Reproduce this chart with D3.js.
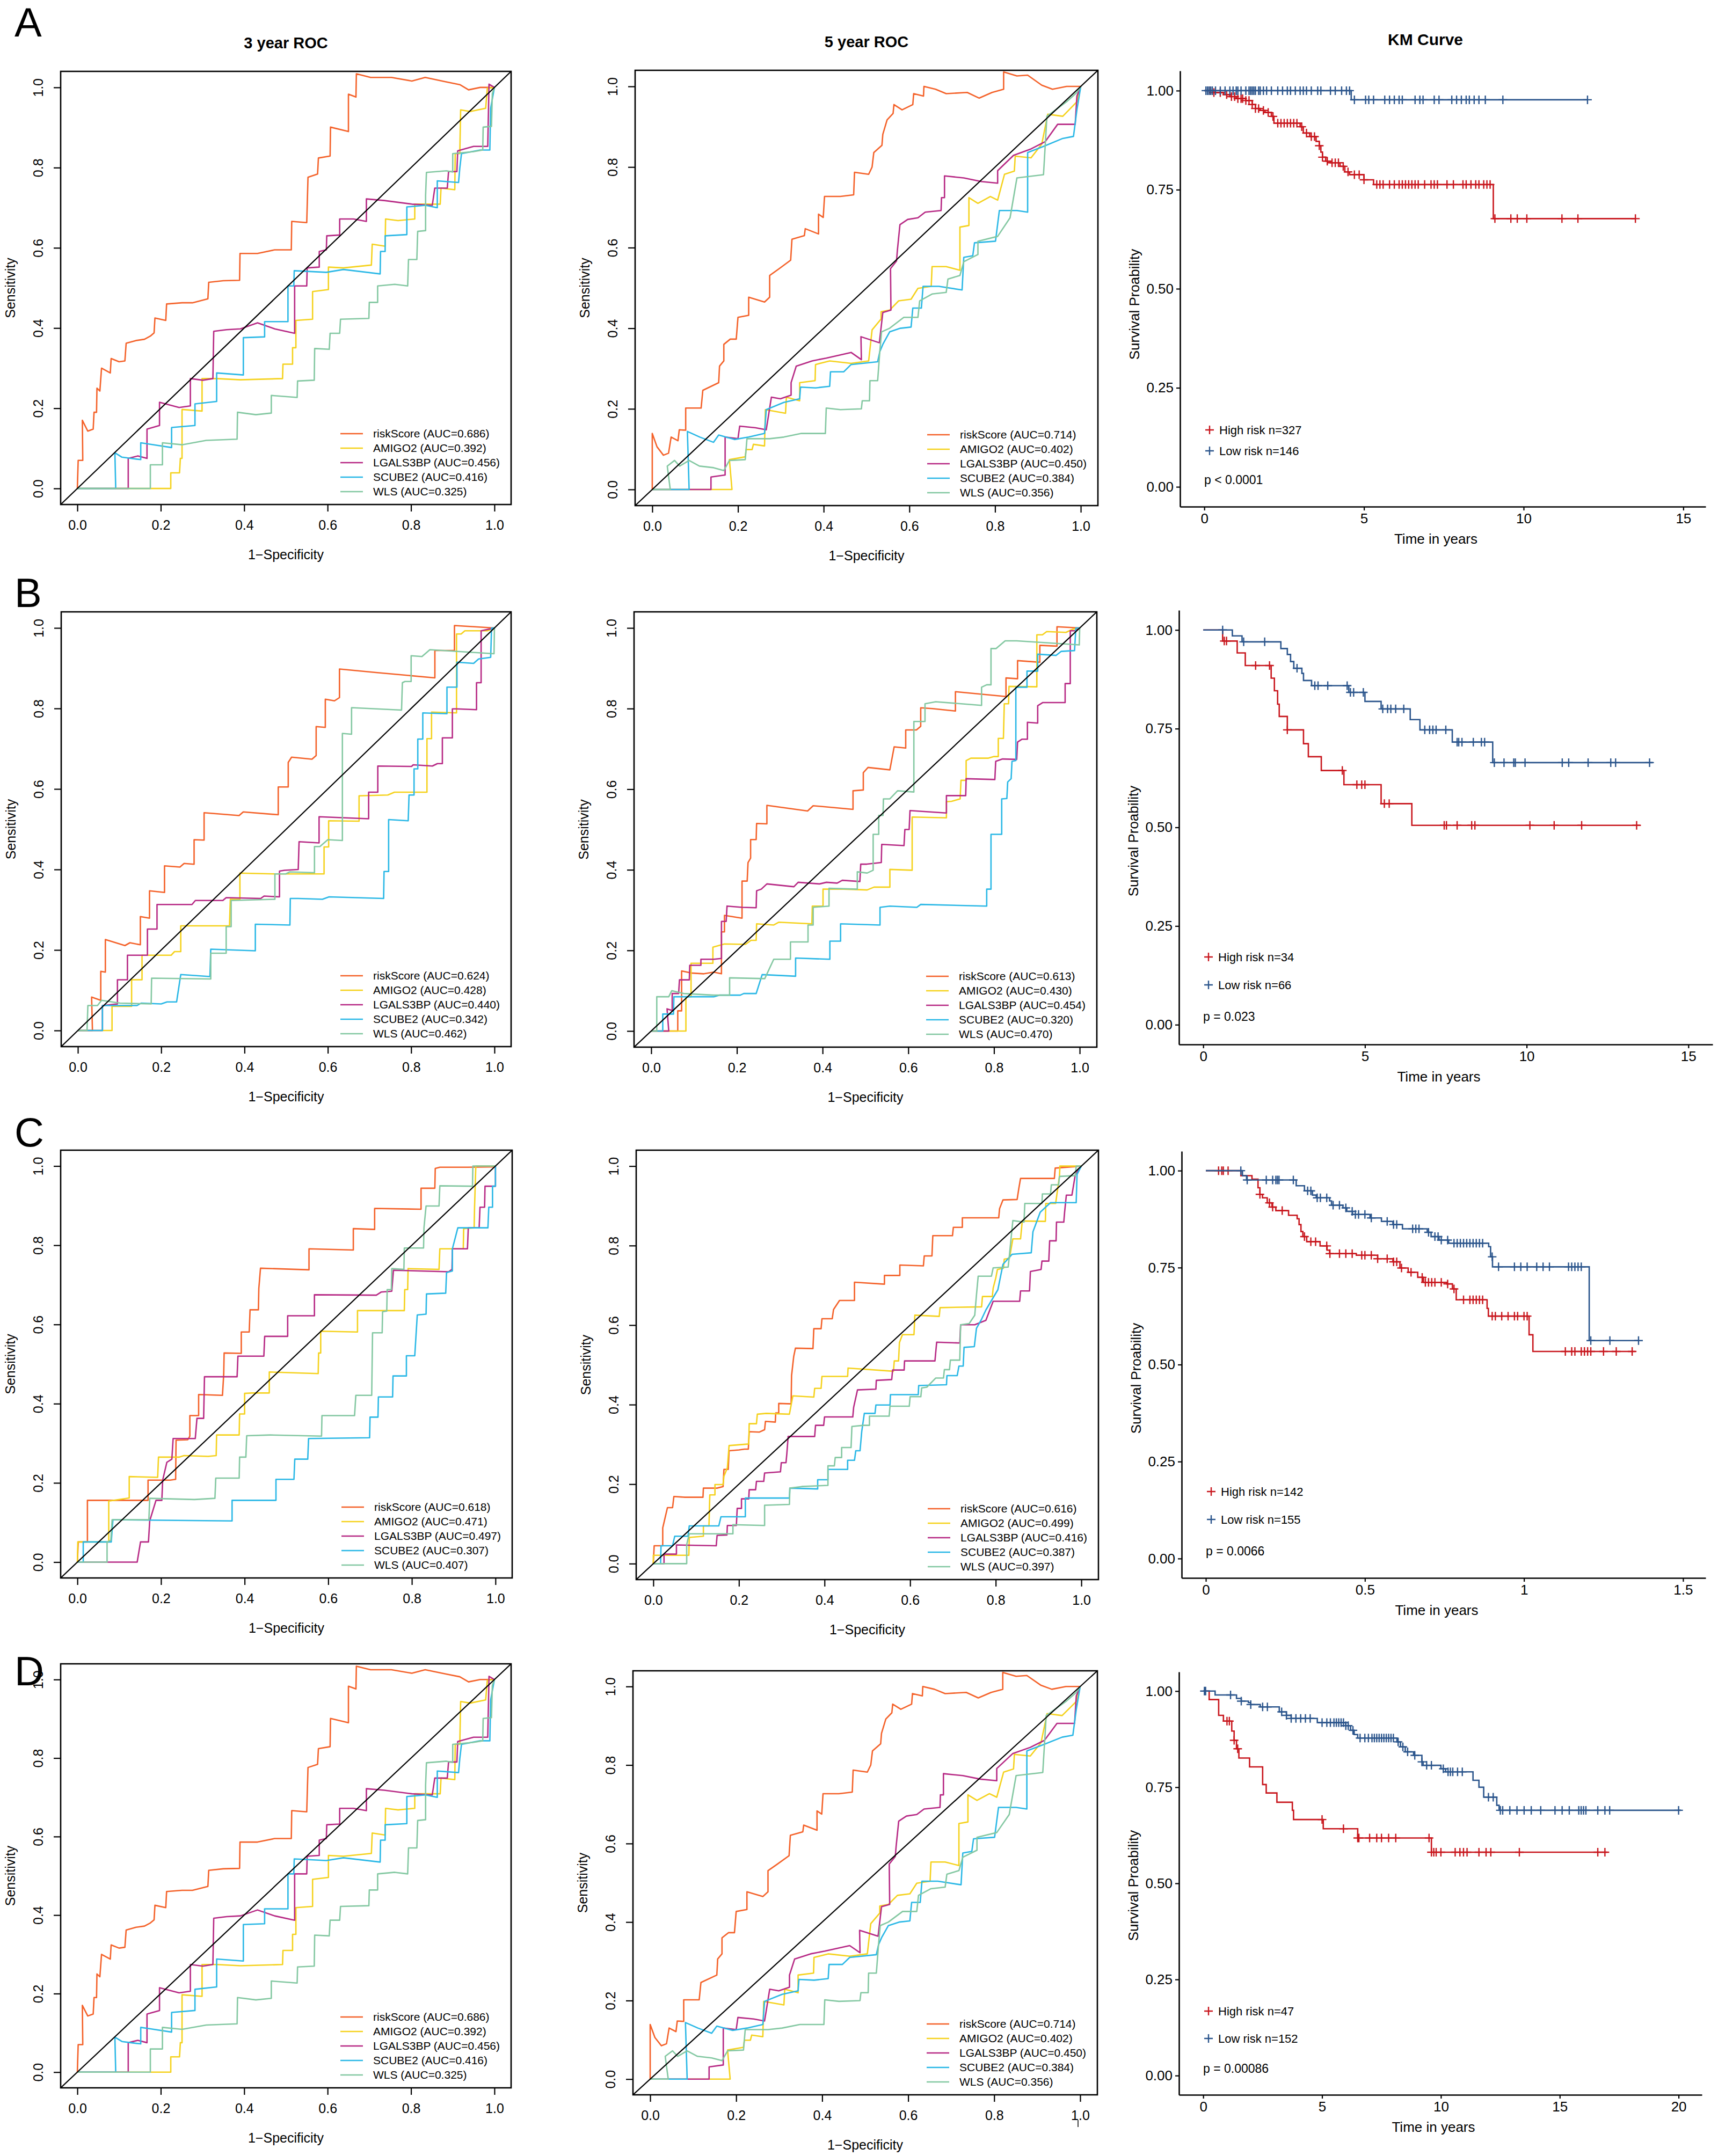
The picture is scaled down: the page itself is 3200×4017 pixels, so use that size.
<!DOCTYPE html>
<html><head><meta charset="utf-8">
<script src="https://cdn.jsdelivr.net/npm/d3@7"></script>
<style>body{margin:0;background:#fff}svg{display:block}</style>
</head><body><svg id="c" width="3200" height="4017"></svg>
<script>
// ---------------- DATA ----------------
const genes = ["riskScore","AMIGO2","LGALS3BP","SCUBE2","WLS"];
const rocTicks = [0,0.2,0.4,0.6,0.8,1.0];
const aucA3 = [0.686,0.392,0.456,0.416,0.325];
const aucA5 = [0.714,0.402,0.450,0.384,0.356];
const aucB3 = [0.624,0.428,0.440,0.342,0.462];
const aucB5 = [0.613,0.430,0.454,0.320,0.470];
const aucC3 = [0.618,0.471,0.497,0.307,0.407];
const aucC5 = [0.616,0.499,0.416,0.387,0.397];

// ROC curves, [1-specificity, sensitivity]
const rocA3_riskScore = [[0,0],[0.002,0.07],[0.013,0.07],[0.012,0.17],[0.025,0.143],[0.038,0.148],[0.04,0.19],[0.046,0.19],[0.047,0.25],[0.054,0.243],[0.058,0.30],[0.079,0.288],[0.081,0.324],[0.1,0.316],[0.114,0.318],[0.117,0.362],[0.141,0.369],[0.161,0.372],[0.175,0.38],[0.184,0.388],[0.186,0.425],[0.212,0.419],[0.214,0.46],[0.251,0.463],[0.276,0.463],[0.313,0.473],[0.315,0.514],[0.35,0.518],[0.389,0.519],[0.39,0.586],[0.432,0.586],[0.473,0.595],[0.513,0.595],[0.514,0.666],[0.55,0.663],[0.553,0.776],[0.576,0.784],[0.578,0.824],[0.606,0.829],[0.607,0.901],[0.65,0.89],[0.65,0.983],[0.668,0.976],[0.669,1.034],[0.703,1.025],[0.753,1.025],[0.802,1.016],[0.834,1.025],[0.884,1.014],[0.917,1.007],[0.938,0.994],[0.966,1.0],[1,1]];
const rocA3_AMIGO2 = [[0,0],[0.224,0],[0.224,0.039],[0.245,0.039],[0.247,0.075],[0.251,0.075],[0.251,0.197],[0.299,0.193],[0.299,0.274],[0.334,0.274],[0.391,0.271],[0.492,0.274],[0.493,0.31],[0.516,0.31],[0.516,0.351],[0.524,0.351],[0.524,0.419],[0.564,0.422],[0.564,0.491],[0.602,0.496],[0.602,0.552],[0.638,0.55],[0.705,0.557],[0.707,0.609],[0.738,0.604],[0.739,0.672],[0.769,0.668],[0.809,0.672],[0.809,0.709],[0.87,0.709],[0.872,0.749],[0.905,0.745],[0.906,0.835],[0.917,0.835],[0.919,0.944],[0.942,0.94],[0.979,0.948],[0.983,0.998],[1,1]];
const rocA3_LGALS3BP = [[0,0],[0.122,0],[0.122,0.075],[0.145,0.081],[0.167,0.075],[0.167,0.148],[0.197,0.157],[0.197,0.215],[0.244,0.202],[0.271,0.206],[0.271,0.274],[0.301,0.27],[0.325,0.274],[0.327,0.392],[0.358,0.396],[0.391,0.398],[0.432,0.413],[0.473,0.398],[0.521,0.387],[0.521,0.505],[0.55,0.505],[0.551,0.55],[0.58,0.552],[0.58,0.591],[0.597,0.595],[0.598,0.63],[0.629,0.632],[0.629,0.672],[0.662,0.672],[0.693,0.666],[0.693,0.722],[0.736,0.718],[0.802,0.709],[0.851,0.706],[0.857,0.749],[0.887,0.749],[0.89,0.79],[0.91,0.79],[0.912,0.842],[0.95,0.853],[0.984,0.853],[0.987,1.008],[1,1]];
const rocA3_SCUBE2 = [[0,0],[0.092,0],[0.09,0.089],[0.107,0.078],[0.128,0.075],[0.152,0.072],[0.152,0.114],[0.177,0.11],[0.226,0.102],[0.226,0.152],[0.282,0.157],[0.282,0.211],[0.334,0.217],[0.334,0.288],[0.398,0.283],[0.398,0.376],[0.449,0.378],[0.449,0.416],[0.505,0.416],[0.505,0.505],[0.519,0.505],[0.52,0.543],[0.597,0.539],[0.638,0.546],[0.726,0.535],[0.727,0.591],[0.738,0.591],[0.738,0.63],[0.79,0.633],[0.79,0.702],[0.835,0.706],[0.863,0.7],[0.863,0.767],[0.914,0.763],[0.917,0.799],[0.921,0.835],[0.966,0.844],[0.989,0.844],[0.991,0.948],[1,1]];
const rocA3_WLS = [[0,0],[0.175,0],[0.175,0.059],[0.204,0.059],[0.204,0.114],[0.251,0.109],[0.309,0.12],[0.383,0.123],[0.384,0.19],[0.428,0.184],[0.465,0.188],[0.465,0.232],[0.527,0.227],[0.528,0.268],[0.568,0.27],[0.569,0.349],[0.604,0.347],[0.606,0.387],[0.629,0.387],[0.631,0.422],[0.699,0.424],[0.7,0.464],[0.72,0.464],[0.72,0.505],[0.761,0.509],[0.792,0.505],[0.794,0.571],[0.814,0.571],[0.816,0.641],[0.835,0.643],[0.835,0.731],[0.837,0.788],[0.885,0.792],[0.9,0.789],[0.9,0.835],[0.95,0.84],[0.972,0.844],[0.973,0.901],[0.993,0.903],[0.995,0.985],[1,1]];

const rocA5_riskScore = [[0,0],[0,0.139],[0.011,0.106],[0.026,0.085],[0.038,0.09],[0.044,0.13],[0.06,0.121],[0.063,0.148],[0.078,0.147],[0.078,0.202],[0.114,0.202],[0.118,0.246],[0.155,0.265],[0.157,0.306],[0.167,0.319],[0.167,0.36],[0.182,0.373],[0.196,0.373],[0.2,0.427],[0.225,0.432],[0.225,0.477],[0.262,0.465],[0.274,0.477],[0.274,0.531],[0.295,0.547],[0.323,0.569],[0.326,0.621],[0.355,0.63],[0.357,0.647],[0.388,0.634],[0.388,0.683],[0.399,0.675],[0.402,0.727],[0.439,0.727],[0.47,0.731],[0.472,0.787],[0.505,0.782],[0.513,0.8],[0.517,0.836],[0.536,0.854],[0.538,0.881],[0.548,0.917],[0.562,0.933],[0.564,0.955],[0.583,0.942],[0.608,0.955],[0.61,0.982],[0.633,0.976],[0.634,1.0],[0.661,0.993],[0.686,0.982],[0.735,0.985],[0.763,0.971],[0.793,0.985],[0.82,0.993],[0.82,1.036],[0.851,1.026],[0.876,1.028],[0.909,1.003],[0.934,0.993],[0.967,1.0],[1,1]];
const rocA5_AMIGO2 = [[0,0],[0.186,0],[0.18,0.074],[0.217,0.081],[0.219,0.099],[0.233,0.099],[0.236,0.112],[0.262,0.108],[0.264,0.198],[0.311,0.189],[0.313,0.229],[0.344,0.22],[0.344,0.265],[0.38,0.27],[0.381,0.31],[0.414,0.319],[0.464,0.313],[0.505,0.319],[0.513,0.396],[0.534,0.423],[0.534,0.441],[0.554,0.445],[0.575,0.468],[0.604,0.472],[0.62,0.499],[0.651,0.504],[0.653,0.553],[0.686,0.553],[0.718,0.544],[0.718,0.651],[0.739,0.655],[0.739,0.724],[0.76,0.71],[0.789,0.727],[0.806,0.718],[0.822,0.782],[0.845,0.79],[0.847,0.827],[0.884,0.823],[0.909,0.857],[0.923,0.931],[0.958,0.926],[0.991,0.962],[1,1]];
const rocA5_LGALS3BP = [[0,0],[0.137,0],[0.137,0.031],[0.17,0.036],[0.17,0.13],[0.2,0.126],[0.204,0.157],[0.241,0.153],[0.266,0.148],[0.278,0.229],[0.299,0.225],[0.324,0.234],[0.324,0.265],[0.336,0.306],[0.373,0.319],[0.406,0.326],[0.464,0.34],[0.488,0.322],[0.487,0.379],[0.53,0.364],[0.538,0.439],[0.557,0.445],[0.556,0.548],[0.57,0.567],[0.572,0.593],[0.578,0.657],[0.596,0.67],[0.62,0.674],[0.637,0.688],[0.674,0.692],[0.675,0.724],[0.682,0.724],[0.682,0.778],[0.727,0.773],[0.768,0.764],[0.806,0.76],[0.806,0.791],[0.843,0.829],[0.884,0.845],[0.917,0.863],[0.946,0.906],[0.987,0.906],[0.991,0.976],[1,1]];
const rocA5_SCUBE2 = [[0,0],[0.086,0],[0.082,0.144],[0.111,0.13],[0.143,0.117],[0.155,0.135],[0.192,0.124],[0.225,0.13],[0.262,0.139],[0.266,0.198],[0.307,0.216],[0.344,0.225],[0.346,0.254],[0.381,0.252],[0.414,0.256],[0.416,0.292],[0.447,0.292],[0.464,0.31],[0.526,0.317],[0.531,0.342],[0.538,0.36],[0.554,0.391],[0.579,0.4],[0.604,0.403],[0.608,0.45],[0.628,0.45],[0.632,0.504],[0.669,0.504],[0.723,0.495],[0.727,0.576],[0.748,0.58],[0.752,0.612],[0.801,0.616],[0.81,0.692],[0.851,0.692],[0.876,0.688],[0.876,0.836],[0.917,0.853],[0.958,0.871],[0.983,0.876],[0.991,0.942],[1,1]];
const rocA5_WLS = [[0,0],[0.042,0],[0.035,0.058],[0.052,0.072],[0.064,0.058],[0.086,0.072],[0.11,0.058],[0.143,0.054],[0.167,0.047],[0.18,0.072],[0.217,0.074],[0.221,0.126],[0.274,0.126],[0.307,0.13],[0.348,0.139],[0.404,0.139],[0.406,0.202],[0.439,0.198],[0.488,0.2],[0.49,0.22],[0.507,0.22],[0.508,0.27],[0.526,0.27],[0.531,0.342],[0.535,0.391],[0.554,0.4],[0.587,0.427],[0.62,0.427],[0.624,0.468],[0.653,0.485],[0.686,0.489],[0.69,0.522],[0.718,0.531],[0.727,0.565],[0.76,0.583],[0.76,0.616],[0.806,0.628],[0.835,0.674],[0.851,0.773],[0.913,0.781],[0.921,0.926],[0.967,0.962],[0.991,0.985],[1,1]];

const rocB3_riskScore = [[0,0],[0.035,0],[0.033,0.083],[0.055,0.075],[0.055,0.147],[0.066,0.145],[0.066,0.226],[0.113,0.211],[0.125,0.218],[0.15,0.213],[0.15,0.283],[0.172,0.279],[0.172,0.347],[0.208,0.343],[0.208,0.409],[0.245,0.406],[0.255,0.415],[0.279,0.413],[0.279,0.474],[0.303,0.473],[0.303,0.541],[0.387,0.534],[0.397,0.543],[0.481,0.536],[0.481,0.605],[0.505,0.605],[0.505,0.666],[0.513,0.679],[0.562,0.674],[0.572,0.683],[0.572,0.755],[0.594,0.753],[0.594,0.823],[0.616,0.819],[0.628,0.827],[0.628,0.898],[0.719,0.889],[0.857,0.876],[0.857,0.944],[0.904,0.944],[0.904,1.006],[1,1]];
const rocB3_AMIGO2 = [[0,0],[0.082,0],[0.082,0.06],[0.129,0.06],[0.129,0.126],[0.154,0.126],[0.154,0.187],[0.224,0.187],[0.232,0.196],[0.247,0.196],[0.247,0.26],[0.29,0.26],[0.364,0.26],[0.366,0.326],[0.389,0.326],[0.389,0.391],[0.472,0.389],[0.591,0.389],[0.591,0.456],[0.602,0.456],[0.602,0.521],[0.675,0.52],[0.675,0.583],[0.744,0.585],[0.76,0.592],[0.838,0.592],[0.838,0.725],[0.849,0.725],[0.849,0.791],[0.909,0.789],[0.909,0.985],[0.92,0.985],[0.929,0.993],[0.983,0.993],[1,1]];
const rocB3_LGALS3BP = [[0,0],[0.059,0],[0.059,0.062],[0.095,0.066],[0.095,0.126],[0.119,0.126],[0.119,0.187],[0.167,0.187],[0.167,0.252],[0.19,0.252],[0.19,0.313],[0.274,0.313],[0.282,0.323],[0.348,0.323],[0.356,0.33],[0.439,0.328],[0.447,0.334],[0.484,0.332],[0.484,0.396],[0.496,0.398],[0.529,0.4],[0.531,0.469],[0.579,0.466],[0.579,0.531],[0.698,0.526],[0.698,0.592],[0.72,0.592],[0.72,0.657],[0.801,0.656],[0.805,0.66],[0.851,0.657],[0.863,0.663],[0.875,0.663],[0.875,0.727],[0.899,0.727],[0.899,0.799],[0.909,0.799],[0.957,0.797],[0.957,0.864],[0.968,0.864],[0.968,0.993],[1,1]];
const rocB3_SCUBE2 = [[0,0],[0.059,0],[0.059,0.062],[0.142,0.062],[0.152,0.068],[0.2,0.066],[0.214,0.071],[0.237,0.071],[0.247,0.139],[0.317,0.134],[0.319,0.202],[0.426,0.198],[0.426,0.264],[0.509,0.262],[0.51,0.328],[0.529,0.328],[0.587,0.326],[0.603,0.332],[0.734,0.328],[0.735,0.395],[0.746,0.395],[0.746,0.524],[0.793,0.521],[0.795,0.585],[0.807,0.585],[0.807,0.65],[0.816,0.65],[0.816,0.724],[0.828,0.724],[0.828,0.789],[0.886,0.787],[0.886,0.853],[0.91,0.853],[0.91,0.915],[0.95,0.912],[0.962,0.923],[0.991,0.927],[0.993,1.0],[1,1]];
const rocB3_WLS = [[0,0],[0.022,0],[0.024,0.062],[0.047,0.062],[0.057,0.075],[0.101,0.068],[0.176,0.066],[0.177,0.13],[0.319,0.128],[0.319,0.192],[0.356,0.192],[0.356,0.258],[0.368,0.258],[0.368,0.323],[0.473,0.326],[0.473,0.389],[0.499,0.389],[0.509,0.394],[0.568,0.392],[0.568,0.457],[0.581,0.457],[0.6,0.474],[0.635,0.472],[0.635,0.738],[0.657,0.736],[0.657,0.802],[0.777,0.796],[0.779,0.864],[0.785,0.867],[0.8,0.867],[0.8,0.931],[0.826,0.929],[0.845,0.946],[0.999,0.936],[1,1]];

const rocB5_riskScore = [[0,0],[0.062,0],[0.062,0.05],[0.071,0.05],[0.071,0.149],[0.093,0.144],[0.123,0.142],[0.146,0.146],[0.164,0.142],[0.164,0.246],[0.171,0.246],[0.171,0.287],[0.212,0.28],[0.212,0.372],[0.224,0.372],[0.226,0.418],[0.232,0.429],[0.232,0.475],[0.245,0.475],[0.246,0.515],[0.27,0.514],[0.27,0.56],[0.365,0.546],[0.378,0.559],[0.471,0.55],[0.471,0.596],[0.495,0.598],[0.495,0.641],[0.506,0.654],[0.557,0.648],[0.567,0.705],[0.594,0.702],[0.594,0.747],[0.619,0.747],[0.629,0.756],[0.629,0.802],[0.656,0.8],[0.71,0.794],[0.71,0.842],[0.828,0.83],[0.828,0.876],[0.855,0.874],[0.855,0.919],[0.907,0.915],[0.907,0.957],[0.947,0.955],[0.947,1.003],[1,1]];
const rocB5_AMIGO2 = [[0,0],[0.081,0],[0.081,0.085],[0.093,0.085],[0.093,0.168],[0.144,0.168],[0.144,0.208],[0.171,0.216],[0.22,0.215],[0.233,0.225],[0.245,0.225],[0.246,0.266],[0.286,0.263],[0.298,0.27],[0.375,0.266],[0.376,0.31],[0.401,0.31],[0.401,0.352],[0.449,0.352],[0.504,0.35],[0.52,0.357],[0.557,0.357],[0.557,0.401],[0.609,0.399],[0.609,0.531],[0.689,0.529],[0.689,0.569],[0.701,0.57],[0.721,0.576],[0.723,0.622],[0.735,0.622],[0.735,0.671],[0.746,0.677],[0.787,0.677],[0.8,0.681],[0.81,0.681],[0.81,0.726],[0.822,0.726],[0.824,0.812],[0.834,0.812],[0.835,0.855],[0.9,0.854],[0.9,0.983],[0.913,0.983],[0.923,0.991],[0.968,0.989],[0.984,0.997],[1,1]];
const rocB5_LGALS3BP = [[0,0],[0.041,0],[0.037,0.055],[0.049,0.051],[0.049,0.093],[0.064,0.093],[0.066,0.127],[0.089,0.127],[0.09,0.163],[0.116,0.163],[0.116,0.178],[0.146,0.178],[0.164,0.18],[0.164,0.272],[0.175,0.272],[0.177,0.31],[0.212,0.307],[0.245,0.306],[0.246,0.348],[0.257,0.352],[0.27,0.365],[0.333,0.358],[0.343,0.369],[0.393,0.365],[0.409,0.369],[0.434,0.367],[0.446,0.374],[0.487,0.371],[0.489,0.414],[0.503,0.414],[0.537,0.418],[0.538,0.463],[0.59,0.46],[0.592,0.5],[0.602,0.5],[0.604,0.547],[0.689,0.541],[0.689,0.584],[0.734,0.584],[0.735,0.626],[0.802,0.624],[0.804,0.669],[0.82,0.675],[0.853,0.674],[0.855,0.717],[0.865,0.724],[0.878,0.724],[0.878,0.766],[0.902,0.764],[0.902,0.807],[0.914,0.815],[0.966,0.815],[0.966,0.862],[0.978,0.862],[0.978,0.993],[0.99,0.993],[1,1]];
const rocB5_SCUBE2 = [[0,0],[0.027,0],[0.027,0.042],[0.052,0.042],[0.053,0.085],[0.146,0.085],[0.159,0.089],[0.208,0.089],[0.216,0.093],[0.245,0.093],[0.259,0.14],[0.337,0.136],[0.337,0.181],[0.417,0.178],[0.417,0.223],[0.442,0.223],[0.442,0.266],[0.534,0.263],[0.534,0.307],[0.557,0.31],[0.62,0.307],[0.629,0.314],[0.783,0.31],[0.783,0.352],[0.793,0.352],[0.793,0.488],[0.818,0.488],[0.818,0.576],[0.83,0.577],[0.832,0.618],[0.84,0.626],[0.842,0.669],[0.851,0.671],[0.851,0.853],[0.877,0.853],[0.877,0.893],[0.902,0.893],[0.902,0.935],[0.945,0.932],[0.957,0.942],[0.988,0.944],[0.991,1.0],[1,1]];
const rocB5_WLS = [[0,0],[0.013,0],[0.013,0.085],[0.041,0.085],[0.048,0.1],[0.076,0.093],[0.146,0.089],[0.183,0.089],[0.183,0.132],[0.265,0.13],[0.286,0.178],[0.325,0.178],[0.325,0.221],[0.366,0.221],[0.366,0.263],[0.378,0.263],[0.378,0.307],[0.415,0.31],[0.415,0.354],[0.481,0.352],[0.481,0.395],[0.504,0.392],[0.518,0.399],[0.518,0.488],[0.531,0.488],[0.531,0.535],[0.541,0.535],[0.542,0.576],[0.557,0.576],[0.575,0.596],[0.613,0.593],[0.613,0.768],[0.639,0.768],[0.639,0.812],[0.664,0.817],[0.771,0.808],[0.771,0.853],[0.783,0.859],[0.793,0.859],[0.793,0.949],[0.805,0.949],[0.826,0.968],[0.853,0.968],[0.999,0.958],[1,1]];

const rocC3_riskScore = [[0,0],[0.002,0.051],[0.024,0.051],[0.024,0.156],[0.169,0.156],[0.169,0.207],[0.222,0.207],[0.235,0.209],[0.236,0.308],[0.264,0.309],[0.269,0.318],[0.269,0.37],[0.29,0.37],[0.29,0.423],[0.347,0.421],[0.35,0.474],[0.351,0.528],[0.392,0.527],[0.392,0.581],[0.411,0.581],[0.413,0.637],[0.433,0.637],[0.434,0.691],[0.438,0.742],[0.554,0.738],[0.554,0.791],[0.66,0.788],[0.66,0.842],[0.711,0.84],[0.711,0.893],[0.822,0.891],[0.822,0.944],[0.855,0.944],[0.856,0.994],[0.867,0.997],[0.933,0.997],[1,0.998],[1,1]];
const rocC3_AMIGO2 = [[0,0],[0.001,0.051],[0.075,0.051],[0.075,0.154],[0.124,0.162],[0.124,0.216],[0.192,0.214],[0.194,0.265],[0.243,0.265],[0.255,0.269],[0.313,0.267],[0.332,0.269],[0.333,0.321],[0.387,0.321],[0.388,0.374],[0.4,0.374],[0.4,0.426],[0.418,0.427],[0.459,0.427],[0.459,0.48],[0.576,0.476],[0.577,0.528],[0.582,0.528],[0.582,0.583],[0.67,0.581],[0.67,0.635],[0.782,0.635],[0.783,0.688],[0.79,0.688],[0.791,0.741],[0.865,0.739],[0.867,0.791],[0.923,0.791],[0.924,0.842],[0.949,0.844],[0.95,0.896],[0.953,1.0],[1,1]];
const rocC3_LGALS3BP = [[0,0],[0.143,0],[0.151,0.051],[0.17,0.051],[0.173,0.104],[0.188,0.156],[0.202,0.156],[0.204,0.207],[0.214,0.252],[0.226,0.26],[0.229,0.312],[0.282,0.312],[0.286,0.363],[0.302,0.363],[0.304,0.468],[0.382,0.468],[0.384,0.52],[0.446,0.52],[0.448,0.57],[0.503,0.57],[0.503,0.622],[0.567,0.622],[0.567,0.675],[0.715,0.674],[0.727,0.682],[0.752,0.684],[0.756,0.737],[0.888,0.733],[0.896,0.739],[0.897,0.791],[0.933,0.791],[0.935,0.844],[0.961,0.844],[0.963,0.896],[0.974,0.896],[0.975,0.949],[1,0.949],[1,1]];
const rocC3_SCUBE2 = [[0,0],[0.014,0],[0.014,0.051],[0.081,0.051],[0.085,0.107],[0.37,0.104],[0.37,0.156],[0.475,0.156],[0.475,0.209],[0.518,0.209],[0.52,0.26],[0.551,0.26],[0.553,0.312],[0.699,0.314],[0.7,0.366],[0.719,0.366],[0.72,0.417],[0.754,0.417],[0.755,0.47],[0.787,0.47],[0.787,0.521],[0.807,0.521],[0.81,0.573],[0.813,0.624],[0.834,0.626],[0.835,0.677],[0.881,0.679],[0.883,0.731],[0.897,0.735],[0.897,0.791],[0.91,0.844],[0.982,0.844],[0.984,0.896],[0.993,0.896],[0.993,0.949],[1,0.949],[1,1]];
const rocC3_WLS = [[0,0],[0.071,0],[0.071,0.051],[0.08,0.055],[0.083,0.107],[0.171,0.107],[0.173,0.161],[0.28,0.158],[0.329,0.161],[0.331,0.212],[0.387,0.212],[0.388,0.265],[0.403,0.265],[0.405,0.319],[0.461,0.321],[0.584,0.318],[0.585,0.37],[0.663,0.37],[0.666,0.421],[0.704,0.421],[0.706,0.579],[0.729,0.579],[0.73,0.632],[0.74,0.634],[0.741,0.688],[0.751,0.688],[0.752,0.741],[0.781,0.739],[0.782,0.793],[0.828,0.793],[0.829,0.844],[0.834,0.899],[0.865,0.899],[0.867,0.95],[0.945,0.949],[0.946,1.0],[1,1]];

const rocC5_riskScore = [[0,0],[0.002,0.045],[0.022,0.045],[0.022,0.09],[0.027,0.113],[0.033,0.141],[0.045,0.141],[0.048,0.169],[0.074,0.167],[0.116,0.167],[0.117,0.19],[0.149,0.19],[0.163,0.194],[0.165,0.237],[0.175,0.237],[0.177,0.284],[0.2,0.286],[0.213,0.288],[0.222,0.288],[0.224,0.332],[0.248,0.331],[0.26,0.337],[0.262,0.358],[0.285,0.356],[0.286,0.379],[0.293,0.379],[0.293,0.403],[0.322,0.402],[0.323,0.473],[0.328,0.521],[0.332,0.542],[0.373,0.541],[0.375,0.591],[0.392,0.591],[0.394,0.616],[0.418,0.616],[0.421,0.639],[0.435,0.662],[0.47,0.662],[0.47,0.708],[0.54,0.703],[0.54,0.725],[0.576,0.725],[0.576,0.751],[0.631,0.749],[0.633,0.774],[0.651,0.774],[0.653,0.825],[0.699,0.825],[0.701,0.846],[0.722,0.846],[0.722,0.87],[0.807,0.87],[0.809,0.893],[0.817,0.915],[0.85,0.916],[0.854,0.944],[0.858,0.969],[0.937,0.969],[0.939,0.995],[1,1]];
const rocC5_AMIGO2 = [[0,0],[0,0.021],[0.083,0.021],[0.084,0.066],[0.117,0.069],[0.117,0.095],[0.13,0.095],[0.132,0.173],[0.144,0.173],[0.144,0.199],[0.163,0.199],[0.165,0.22],[0.173,0.241],[0.177,0.297],[0.223,0.301],[0.224,0.352],[0.241,0.352],[0.243,0.376],[0.264,0.378],[0.318,0.376],[0.326,0.422],[0.375,0.419],[0.377,0.441],[0.392,0.441],[0.394,0.471],[0.454,0.471],[0.455,0.492],[0.561,0.484],[0.563,0.51],[0.573,0.51],[0.575,0.556],[0.582,0.576],[0.609,0.576],[0.611,0.625],[0.668,0.622],[0.67,0.644],[0.767,0.646],[0.769,0.672],[0.792,0.672],[0.794,0.693],[0.8,0.718],[0.804,0.74],[0.818,0.743],[0.82,0.766],[0.832,0.768],[0.84,0.817],[0.858,0.817],[0.862,0.862],[0.916,0.861],[0.917,0.906],[0.94,0.906],[0.949,0.976],[0.95,1.0],[1,1]];
const rocC5_LGALS3BP = [[0,0],[0.025,0],[0.025,0.024],[0.054,0.024],[0.054,0.047],[0.147,0.045],[0.149,0.071],[0.172,0.072],[0.173,0.096],[0.194,0.096],[0.196,0.139],[0.206,0.139],[0.206,0.163],[0.223,0.163],[0.224,0.186],[0.239,0.186],[0.241,0.207],[0.258,0.207],[0.26,0.228],[0.297,0.231],[0.299,0.254],[0.31,0.254],[0.312,0.277],[0.315,0.32],[0.377,0.32],[0.379,0.348],[0.398,0.348],[0.4,0.369],[0.466,0.369],[0.468,0.393],[0.477,0.437],[0.52,0.439],[0.521,0.461],[0.557,0.463],[0.559,0.487],[0.586,0.487],[0.587,0.51],[0.658,0.51],[0.662,0.557],[0.716,0.555],[0.718,0.601],[0.751,0.601],[0.777,0.612],[0.794,0.66],[0.856,0.66],[0.858,0.686],[0.879,0.686],[0.881,0.735],[0.906,0.74],[0.908,0.761],[0.924,0.761],[0.926,0.812],[0.941,0.812],[0.942,0.859],[0.959,0.859],[0.961,0.885],[0.965,0.927],[0.978,0.927],[0.986,0.979],[1,1]];
const rocC5_SCUBE2 = [[0,0],[0.017,0],[0.018,0.045],[0.045,0.045],[0.05,0.069],[0.081,0.069],[0.084,0.095],[0.153,0.095],[0.158,0.118],[0.215,0.118],[0.215,0.165],[0.318,0.165],[0.319,0.19],[0.384,0.188],[0.384,0.211],[0.408,0.211],[0.408,0.237],[0.454,0.237],[0.454,0.26],[0.47,0.26],[0.473,0.284],[0.483,0.284],[0.487,0.333],[0.493,0.378],[0.518,0.378],[0.52,0.399],[0.553,0.399],[0.554,0.425],[0.619,0.425],[0.62,0.448],[0.685,0.45],[0.686,0.473],[0.71,0.473],[0.714,0.497],[0.724,0.497],[0.726,0.544],[0.75,0.546],[0.755,0.592],[0.767,0.615],[0.777,0.638],[0.805,0.689],[0.817,0.753],[0.838,0.778],[0.883,0.782],[0.887,0.835],[0.904,0.884],[0.928,0.908],[0.988,0.908],[0.99,0.979],[1,1]];
const rocC5_WLS = [[0,0],[0.078,0],[0.078,0.048],[0.084,0.075],[0.186,0.075],[0.186,0.098],[0.26,0.096],[0.26,0.147],[0.318,0.149],[0.319,0.19],[0.347,0.194],[0.408,0.197],[0.408,0.246],[0.423,0.246],[0.425,0.267],[0.44,0.267],[0.44,0.292],[0.462,0.292],[0.464,0.345],[0.491,0.348],[0.505,0.348],[0.505,0.371],[0.551,0.371],[0.553,0.396],[0.598,0.396],[0.6,0.42],[0.625,0.42],[0.627,0.442],[0.639,0.444],[0.66,0.467],[0.678,0.467],[0.68,0.488],[0.692,0.488],[0.694,0.512],[0.716,0.512],[0.718,0.601],[0.738,0.604],[0.751,0.625],[0.755,0.676],[0.759,0.723],[0.79,0.723],[0.794,0.744],[0.829,0.746],[0.831,0.765],[0.84,0.863],[0.866,0.859],[0.868,0.906],[0.908,0.906],[0.909,0.93],[0.928,0.93],[0.93,0.953],[0.947,0.953],[0.949,0.974],[0.986,0.976],[0.988,1.0],[1,1]];

// KM data: event times (years) and survival right after each step
const kmGroups = ["High risk","Low risk"];
const kmA_highT = [0.3,0.6,0.8,1.0,1.3,1.5,1.6,1.75,1.9,2.1,2.18,3.0,3.1,3.3,3.5,3.6,3.65,3.7,3.8,3.95,4.25,4.4,4.55,5.0,5.3,9.05];
const kmA_highS = [0.995,0.99,0.985,0.98,0.975,0.965,0.955,0.95,0.945,0.935,0.918,0.909,0.893,0.884,0.872,0.861,0.845,0.832,0.822,0.818,0.809,0.795,0.788,0.775,0.763,0.677];
const kmA_highEnd = 13.5;
const kmA_highCens = [0.15,0.3,0.5,0.7,0.85,0.95,1.05,1.15,1.2,1.3,1.4,1.5,1.6,1.7,1.85,2.0,2.15,2.3,2.4,2.5,2.6,2.7,2.8,2.9,3.05,3.2,3.35,3.45,3.6,3.7,3.85,4.0,4.1,4.2,4.35,4.5,4.7,4.85,5.0,5.4,5.5,5.6,5.8,5.95,6.1,6.2,6.3,6.4,6.5,6.6,6.7,6.9,7.1,7.2,7.3,7.6,7.8,8.1,8.2,8.35,8.5,8.6,8.75,8.85,8.95,9.1,9.6,9.8,10.1,11.2,11.7,13.5];
const kmA_lowT = [4.6];
const kmA_lowS = [0.977];
const kmA_lowEnd = 12.0;
const kmA_lowCens = [0.05,0.1,0.15,0.2,0.25,0.35,0.5,0.65,0.8,0.9,1.0,1.05,1.15,1.3,1.4,1.45,1.5,1.55,1.6,1.7,1.75,1.85,1.95,2.1,2.3,2.45,2.6,2.7,2.85,3.0,3.1,3.2,3.35,3.55,3.65,3.95,4.1,4.3,4.45,4.55,4.7,5.05,5.15,5.3,5.65,5.8,5.95,6.1,6.2,6.6,6.75,6.85,7.2,7.35,7.75,7.9,8.05,8.2,8.3,8.45,8.6,8.8,9.35,12.0];

const kmB_highT = [0.6,1.05,1.3,2.1,2.2,2.3,2.35,2.6,3.1,3.25,3.65,4.35,5.5,6.45];
const kmB_highS = [0.972,0.942,0.91,0.878,0.846,0.812,0.781,0.747,0.712,0.679,0.644,0.608,0.56,0.505];
const kmB_highEnd = 13.5;
const kmB_highCens = [0.65,0.72,1.62,2.05,2.6,4.3,4.75,4.9,5.0,5.6,5.75,7.45,7.52,7.85,8.3,8.4,10.1,10.85,11.7,13.4];
const kmB_lowT = [0.9,1.2,2.4,2.6,2.7,2.8,3.05,3.1,3.35,4.5,5.0,5.5,6.4,6.7,7.7,8.95];
const kmB_lowS = [0.985,0.97,0.953,0.938,0.92,0.903,0.89,0.872,0.859,0.842,0.819,0.80,0.773,0.747,0.716,0.664];
const kmB_lowEnd = 13.9;
const kmB_lowCens = [0.6,1.25,1.9,2.9,3.45,3.55,3.85,4.45,4.55,4.65,4.95,5.55,5.7,5.8,5.95,6.2,6.85,7.0,7.1,7.2,7.5,7.85,7.9,8.0,8.35,8.6,8.7,9.0,9.3,9.6,9.65,9.95,11.1,11.3,11.9,12.6,12.75,13.8];

const kmC_highT = [0.11,0.145,0.164,0.17,0.178,0.193,0.208,0.22,0.26,0.287,0.293,0.299,0.305,0.317,0.359,0.381,0.389,0.473,0.54,0.588,0.61,0.636,0.666,0.684,0.757,0.775,0.787,0.884,0.888,1.016,1.028];
const kmC_highS = [0.987,0.978,0.956,0.939,0.93,0.917,0.906,0.897,0.885,0.876,0.861,0.843,0.83,0.817,0.806,0.795,0.786,0.782,0.773,0.765,0.749,0.738,0.725,0.712,0.708,0.695,0.667,0.645,0.625,0.577,0.534];
const kmC_highEnd = 1.35;
const kmC_highCens = [0.04,0.05,0.055,0.07,0.17,0.2,0.21,0.24,0.31,0.33,0.345,0.38,0.39,0.42,0.44,0.46,0.49,0.5,0.52,0.54,0.57,0.59,0.6,0.615,0.645,0.68,0.69,0.7,0.71,0.72,0.74,0.76,0.78,0.81,0.83,0.84,0.85,0.86,0.87,0.9,0.91,0.93,0.95,0.97,0.98,1.0,1.01,1.13,1.15,1.16,1.18,1.19,1.2,1.21,1.25,1.29,1.34];
const kmC_lowT = [0.115,0.128,0.284,0.31,0.335,0.347,0.389,0.395,0.431,0.443,0.461,0.516,0.552,0.588,0.618,0.696,0.708,0.733,0.763,0.889,0.895,0.901,1.205];
const kmC_lowS = [0.987,0.976,0.961,0.948,0.937,0.93,0.922,0.911,0.904,0.895,0.887,0.878,0.869,0.861,0.85,0.841,0.83,0.821,0.813,0.804,0.778,0.752,0.562];
const kmC_lowEnd = 1.36;
const kmC_lowCens = [0.11,0.13,0.19,0.21,0.22,0.225,0.23,0.275,0.32,0.33,0.35,0.36,0.38,0.4,0.42,0.44,0.46,0.47,0.48,0.5,0.52,0.57,0.59,0.6,0.65,0.66,0.67,0.7,0.72,0.73,0.74,0.76,0.78,0.79,0.8,0.81,0.82,0.83,0.84,0.85,0.86,0.87,0.9,0.92,0.97,0.99,1.01,1.04,1.06,1.08,1.14,1.15,1.16,1.17,1.18,1.21,1.27,1.36];

const kmD_highT = [0.25,0.65,0.85,1.2,1.3,1.4,1.5,1.95,2.5,2.65,3.1,3.75,3.8,5.05,6.5,9.6];
const kmD_highS = [0.978,0.937,0.922,0.896,0.872,0.85,0.826,0.803,0.757,0.735,0.711,0.69,0.666,0.642,0.618,0.581];
const kmD_highEnd = 17.0;
const kmD_highCens = [1.0,1.1,1.3,1.45,5.0,5.9,6.5,6.55,7.0,7.3,7.5,7.8,8.1,9.5,9.6,9.7,9.8,10.0,10.6,10.8,10.95,11.1,11.6,11.9,12.1,13.3,16.6,16.9];
const kmD_lowT = [0.5,1.4,1.6,1.9,2.0,2.4,3.2,3.5,3.7,4.8,6.0,6.2,6.35,6.5,8.15,8.3,8.5,8.85,9.2,9.25,10.0,10.2,11.35,11.6,11.8,12.35,12.45];
const kmD_lowS = [0.99,0.981,0.974,0.97,0.965,0.959,0.946,0.937,0.929,0.918,0.91,0.898,0.887,0.878,0.868,0.855,0.842,0.833,0.816,0.807,0.798,0.79,0.768,0.75,0.724,0.703,0.69];
const kmD_lowEnd = 20.1;
const kmD_lowCens = [0.05,0.1,1.15,1.6,2.0,2.5,2.7,3.3,3.5,3.7,3.9,4.1,4.3,4.5,5.0,5.2,5.35,5.5,5.6,5.7,5.8,5.9,6.0,6.1,6.3,6.6,6.8,6.95,7.1,7.2,7.3,7.4,7.5,7.6,7.7,7.8,7.9,8.0,8.2,8.4,8.6,8.9,9.2,9.4,9.6,10.1,10.3,10.4,10.5,10.7,10.9,12.0,12.2,12.5,12.6,12.9,13.2,13.5,13.8,14.2,14.8,15.1,15.4,15.8,15.9,16.0,16.1,16.6,16.9,17.1,20.0];

const kmTicksYears = [0,5,10,15];
const kmTicksC = [0,0.5,1,1.5];
const kmTicksD = [0,5,10,15,20];
const kmYTicks = [0,0.25,0.5,0.75,1];
const nA = [327,146], nB = [34,66], nC = [142,155], nD = [47,152];
const pA = "p < 0.0001", pB = "p = 0.023", pC = "p = 0.0066", pD = "p = 0.00086";

// ---------------- STYLE ----------------
const FONT = '"Liberation Sans", Arial, Helvetica, sans-serif';
const rocColors = ["#F4622A","#F5D21E","#B72A85","#2BB8E6","#84C8A2"];
const kmColors = ["#C8161D","#2B558C"];

const svg = d3.select("#c").attr("font-family", FONT);
svg.append("rect").attr("width",3200).attr("height",4017).attr("fill","#fff");
let clipN = 0;

function drawROC(p, curves, aucs){
  const x = d3.scaleLinear().domain([-0.04,1.04]).range([p.left,p.right]);
  const y = d3.scaleLinear().domain([-0.04,1.04]).range([p.bottom,p.top]);
  const g = svg.append("g");
  const cid = "clip" + (clipN++);
  svg.append("clipPath").attr("id",cid).append("rect")
    .attr("x",p.left).attr("y",p.top).attr("width",p.right-p.left).attr("height",p.bottom-p.top);
  const line = d3.line().x(d=>x(d[0])).y(d=>y(d[1]));
  const cg = g.append("g").attr("clip-path",`url(#${cid})`);
  curves.forEach((c,i)=>{
    cg.append("path").attr("d",line(c)).attr("fill","none")
      .attr("stroke",rocColors[i]).attr("stroke-width",2.6).attr("stroke-linejoin","round");
  });
  cg.append("path").attr("d",line([[-0.04,-0.04],[1.04,1.04]]))
    .attr("stroke","#000").attr("stroke-width",2.2).attr("fill","none");
  g.append("rect").attr("x",p.left).attr("y",p.top).attr("width",p.right-p.left).attr("height",p.bottom-p.top)
    .attr("fill","none").attr("stroke","#000").attr("stroke-width",2.6);
  // x axis
  const xa = g.append("g").attr("transform",`translate(0,${p.bottom})`)
    .call(d3.axisBottom(x).tickValues(rocTicks).tickFormat(d3.format(".1f")).tickSize(13).tickSizeOuter(0).tickPadding(16));
  xa.select(".domain").remove();
  xa.selectAll("line").attr("stroke","#000").attr("stroke-width",2.2);
  xa.selectAll("text").attr("font-size",25).attr("font-family",FONT).attr("fill","#000");
  // y axis
  const ya = g.append("g").attr("transform",`translate(${p.left},0)`)
    .call(d3.axisLeft(y).tickValues(rocTicks).tickFormat("").tickSize(13).tickSizeOuter(0));
  ya.select(".domain").remove();
  ya.selectAll("line").attr("stroke","#000").attr("stroke-width",2.2);
  ya.selectAll(".tick").append("text")
    .attr("transform","translate(-42,0) rotate(-90)").attr("text-anchor","middle").attr("dy","0.35em")
    .attr("font-size",25).attr("font-family",FONT).attr("fill","#000")
    .text(d=>d3.format(".1f")(d));
  // axis titles
  g.append("text").attr("x",(p.left+p.right)/2).attr("y",p.bottom+93).attr("dy","0.35em")
    .attr("text-anchor","middle").attr("font-size",25).text("1\u2212Specificity");
  g.append("text").attr("transform",`translate(${p.left-94},${(p.top+p.bottom)/2}) rotate(-90)`)
    .attr("dy","0.35em").attr("text-anchor","middle").attr("font-size",25).text("Sensitivity");
  // legend
  genes.forEach((name,i)=>{
    const yy = p.bottom - 132 + i*27;
    g.append("line").attr("x1",p.right-318).attr("x2",p.right-276).attr("y1",yy).attr("y2",yy)
      .attr("stroke",rocColors[i]).attr("stroke-width",2.6);
    g.append("text").attr("x",p.right-257).attr("y",yy).attr("dy","0.35em").attr("font-size",21)
      .text(`${name} (AUC=${aucs[i].toFixed(3)})`);
  });
  if (p.title){
    g.append("text").attr("x",(p.left+p.right)/2).attr("y",p.titleY).attr("text-anchor","middle")
      .attr("font-size",29).attr("font-weight","bold").text(p.title);
  }
}

function plusPath(cx,cy,r){ return `M${cx-r},${cy}H${cx+r}M${cx},${cy-r}V${cy+r}`; }

function drawKM(p, groups, n, pText, ticks){
  const x = d3.scaleLinear().domain(p.xdom).range([p.xL,p.xR]);
  const y = d3.scaleLinear().domain([-0.05,1.05]).range([p.yB,p.yT]);
  const g = svg.append("g");
  const step = d3.line().curve(d3.curveStepAfter).x(d=>x(d[0])).y(d=>y(d[1]));
  groups.forEach((gr,i)=>{
    const pts = [[0,1]].concat(gr.t.map((t,k)=>[t,gr.s[k]]));
    pts.push([gr.end, gr.s[gr.s.length-1]]);
    g.append("path").attr("d",step(pts)).attr("fill","none").attr("stroke",kmColors[i]).attr("stroke-width",2.6);
    const survAt = t => { const k = d3.bisectRight(gr.t,t); return k===0 ? 1 : gr.s[k-1]; };
    g.append("path").attr("d", gr.c.map(t=>plusPath(x(t),y(survAt(t)),8)).join(""))
      .attr("stroke",kmColors[i]).attr("stroke-width",2.4).attr("fill","none");
  });
  const ya = g.append("g").attr("transform",`translate(${p.xL},0)`)
    .call(d3.axisLeft(y).tickValues(kmYTicks).tickFormat(d3.format(".2f")).tickSize(7).tickSizeOuter(0).tickPadding(5));
  const xa = g.append("g").attr("transform",`translate(0,${p.yB})`)
    .call(d3.axisBottom(x).tickValues(ticks).tickFormat(d3.format("~g")).tickSize(7).tickSizeOuter(0).tickPadding(6));
  [xa,ya].forEach(a=>{
    a.select(".domain").attr("stroke","#000").attr("stroke-width",2.6);
    a.selectAll(".tick line").attr("stroke","#000").attr("stroke-width",2.2);
    a.selectAll("text").attr("font-size",26).attr("font-family",FONT).attr("fill","#000");
  });
  g.append("text").attr("x",(p.xL+p.xR)/2 - 13).attr("y",p.yB+60).attr("dy","0.35em")
    .attr("text-anchor","middle").attr("font-size",26).text("Time in years");
  g.append("text").attr("transform",`translate(${p.xL-85},${p.ylabY}) rotate(-90)`)
    .attr("dy","0.35em").attr("text-anchor","middle").attr("font-size",26).text("Survival Proability");
  kmGroups.forEach((name,i)=>{
    const yy = p.leg[i];
    g.append("path").attr("d",plusPath(p.xL+55,yy,8)).attr("stroke",kmColors[i]).attr("stroke-width",2.4);
    g.append("text").attr("x",p.xL+73).attr("y",yy).attr("dy","0.35em").attr("font-size",22)
      .text(`${name} n=${n[i]}`);
  });
  g.append("text").attr("x",p.xL+45).attr("y",p.leg[2]).attr("dy","0.35em").attr("font-size",23).text(pText);
  if (p.title){
    g.append("text").attr("x",2655).attr("y",p.titleY).attr("text-anchor","middle")
      .attr("font-size",30).attr("font-weight","bold").text(p.title);
  }
}

// panel letters
[["A",68],["B",1131],["C",2136],["D",3140]].forEach(([l,yy])=>{
  svg.append("text").attr("x",27).attr("y",yy).attr("font-size",76).text(l);
});

// ROC panels
drawROC({left:113,right:952,top:133,bottom:940,title:"3 year ROC",titleY:90},
  [rocA3_riskScore,rocA3_AMIGO2,rocA3_LGALS3BP,rocA3_SCUBE2,rocA3_WLS], aucA3);
drawROC({left:1183,right:2045,top:131,bottom:942,title:"5 year ROC",titleY:88},
  [rocA5_riskScore,rocA5_AMIGO2,rocA5_LGALS3BP,rocA5_SCUBE2,rocA5_WLS], aucA5);
drawROC({left:114,right:952,top:1140,bottom:1950},
  [rocB3_riskScore,rocB3_AMIGO2,rocB3_LGALS3BP,rocB3_SCUBE2,rocB3_WLS], aucB3);
drawROC({left:1181,right:2043,top:1140,bottom:1951},
  [rocB5_riskScore,rocB5_AMIGO2,rocB5_LGALS3BP,rocB5_SCUBE2,rocB5_WLS], aucB5);
drawROC({left:113,right:954,top:2143,bottom:2940},
  [rocC3_riskScore,rocC3_AMIGO2,rocC3_LGALS3BP,rocC3_SCUBE2,rocC3_WLS], aucC3);
drawROC({left:1185,right:2046,top:2143,bottom:2943},
  [rocC5_riskScore,rocC5_AMIGO2,rocC5_LGALS3BP,rocC5_SCUBE2,rocC5_WLS], aucC5);
drawROC({left:113,right:952,top:3100,bottom:3890},
  [rocA3_riskScore,rocA3_AMIGO2,rocA3_LGALS3BP,rocA3_SCUBE2,rocA3_WLS], aucA3);
drawROC({left:1179,right:2044,top:3113,bottom:3903},
  [rocA5_riskScore,rocA5_AMIGO2,rocA5_LGALS3BP,rocA5_SCUBE2,rocA5_WLS], aucA5);
// small stray mark under the last D panel's 1.0 label
svg.append("line").attr("x1",2008).attr("x2",2008).attr("y1",3950).attr("y2",3963).attr("stroke","#000").attr("stroke-width",1.5);

// KM panels
drawKM({xL:2198,xR:3177,yT:132,yB:944,xdom:[-0.76,15.7],ylabY:567,leg:[801,840,894],title:"KM Curve",titleY:84},
  [{t:kmA_highT,s:kmA_highS,end:kmA_highEnd,c:kmA_highCens},{t:kmA_lowT,s:kmA_lowS,end:kmA_lowEnd,c:kmA_lowCens}], nA, pA, kmTicksYears);
drawKM({xL:2196,xR:3190,yT:1137,yB:1946,xdom:[-0.75,15.75],ylabY:1567,leg:[1783,1835,1894]},
  [{t:kmB_highT,s:kmB_highS,end:kmB_highEnd,c:kmB_highCens},{t:kmB_lowT,s:kmB_lowS,end:kmB_lowEnd,c:kmB_lowCens}], nB, pB, kmTicksYears);
drawKM({xL:2201,xR:3177,yT:2145,yB:2940,xdom:[-0.076,1.571],ylabY:2568,leg:[2779,2831,2890]},
  [{t:kmC_highT,s:kmC_highS,end:kmC_highEnd,c:kmC_highCens},{t:kmC_lowT,s:kmC_lowS,end:kmC_lowEnd,c:kmC_lowCens}], nC, pC, kmTicksC);
drawKM({xL:2196,xR:3170,yT:3115,yB:3903,xdom:[-1.02,20.98],ylabY:3513,leg:[3747,3798,3854]},
  [{t:kmD_highT,s:kmD_highS,end:kmD_highEnd,c:kmD_highCens},{t:kmD_lowT,s:kmD_lowS,end:kmD_lowEnd,c:kmD_lowCens}], nD, pD, kmTicksD);
</script></body></html>
